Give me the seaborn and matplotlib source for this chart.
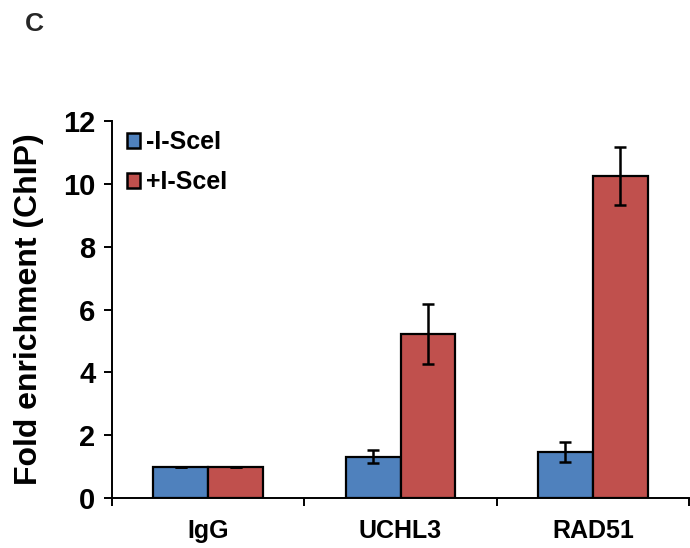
import matplotlib
matplotlib.use("Agg")
import matplotlib.pyplot as plt
import seaborn as sns
import pandas as pd
import numpy as np
from matplotlib.ticker import MultipleLocator, FixedLocator

categories = ["IgG", "UCHL3", "RAD51"]
series = ["-I-SceI", "+I-SceI"]
minus_vals = [1.0, 1.32, 1.46]
plus_vals = [1.0, 5.22, 10.24]
minus_err = [0.0, 0.22, 0.31]
plus_err = [0.0, 0.94, 0.92]
colors = ["#4F81BD", "#C0504D"]

sns.set_theme(style="white")
plt.rcParams['font.family'] = ['Liberation Sans', 'DejaVu Sans']
plt.rcParams['font.weight'] = 'bold'

df = pd.DataFrame({
    "category": categories * 2,
    "series": [series[0]] * 3 + [series[1]] * 3,
    "value": minus_vals + plus_vals,
    "err": minus_err + plus_err,
})

fig = plt.figure(figsize=(6.9, 5.48), dpi=100)
ax = fig.add_axes([0.1623, 0.0912, 0.8363, 0.688])

sns.barplot(data=df, x="category", y="value", hue="series", order=categories,
            hue_order=series, palette=colors, width=0.57, errorbar=None,
            edgecolor="black", linewidth=1.6, saturation=1, ax=ax)

# error bars at bar centers
for cont, errs in zip(ax.containers, [minus_err, plus_err]):
    xs = [p.get_x() + p.get_width() / 2 for p in cont.patches]
    hs = [p.get_height() for p in cont.patches]
    ax.errorbar(xs, hs, yerr=errs, fmt="none", ecolor="black",
                elinewidth=1.8, capsize=4.5, capthick=1.8, zorder=5)

ax.set_xlim(-0.5, 2.5)
ax.set_ylim(0, 12)
ax.yaxis.set_major_locator(MultipleLocator(2))
sns.despine(ax=ax)
for s in ["left", "bottom"]:
    ax.spines[s].set_linewidth(1.4)
    ax.spines[s].set_color("black")

ax.tick_params(axis="y", which="major", direction="out", length=6, width=1.4,
               color="black", left=True, labelsize=21, pad=6)
ax.xaxis.set_minor_locator(FixedLocator([-0.5, 0.5, 1.5, 2.5]))
ax.tick_params(axis="x", which="major", length=0, labelsize=18, pad=15)
ax.tick_params(axis="x", which="minor", direction="out", length=6, width=1.4,
               color="black", bottom=True)
for lab in ax.get_xticklabels() + ax.get_yticklabels():
    lab.set_fontweight("bold")
    lab.set_color("black")

ax.set_xlabel("")
ax.set_ylabel("Fold enrichment (ChIP)", fontsize=23, fontweight="bold",
              color="black", labelpad=14)

leg = ax.legend(loc="upper left", bbox_to_anchor=(-0.003, 1.018), frameon=False,
                fontsize=18, handlelength=0.55, handleheight=0.55,
                handletextpad=0.22, labelspacing=0.62, borderaxespad=0.25)
for t in leg.get_texts():
    t.set_fontweight("bold")
    t.set_color("black")
for h in leg.legend_handles:
    h.set_edgecolor("black")
    h.set_linewidth(1.8)

fig.text(0.036, 0.956, "C", fontsize=19, fontweight="bold", ha="left", va="center")

fig.savefig("out.png", dpi=100)
